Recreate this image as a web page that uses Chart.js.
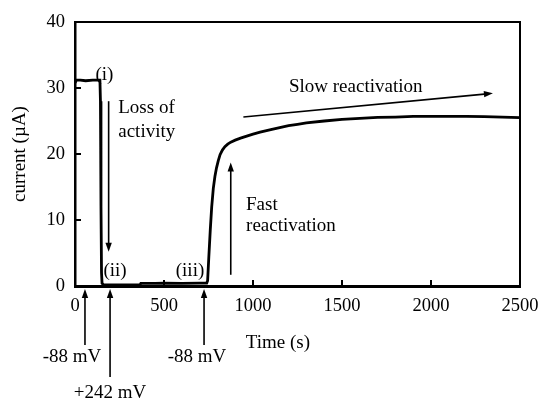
<!DOCTYPE html>
<html>
<head>
<meta charset="utf-8">
<script src="https://cdn.jsdelivr.net/npm/chart.js@4.4.1/dist/chart.umd.min.js"></script>
<style>
  html, body { margin: 0; padding: 0; background: #fff; }
  #c { display: block; }
</style>
</head>
<body>
<canvas id="c" width="544" height="402"></canvas>
<script>
// Chronoamperometry trace: time (s) against current (µA)
const times = [0, 8, 30, 60, 100, 140, 143, 146, 149, 152, 160, 200, 300, 365,
  370, 450, 500, 600, 700, 740, 745, 752, 760, 768, 777, 786, 795, 805, 815,
  828, 842, 858, 875, 900, 930, 965, 1000, 1040, 1100, 1150, 1200, 1250, 1300,
  1400, 1500, 1600, 1700, 1800, 1900, 2000, 2100, 2200, 2300, 2400, 2500];
const current = [30.8, 31.2, 31.2, 31.1, 31.2, 31.2, 28, 12, 2, 0.4, 0.2, 0.15,
  0.15, 0.15, 0.4, 0.4, 0.45, 0.4, 0.45, 0.45, 0.8, 4.5, 8.5, 12, 14.8, 16.6,
  17.9, 19.0, 19.9, 20.6, 21.1, 21.5, 21.8, 22.1, 22.4, 22.7, 23.0, 23.3, 23.7,
  24.0, 24.3, 24.5, 24.7, 25.0, 25.25, 25.4, 25.55, 25.6, 25.7, 25.7, 25.7,
  25.7, 25.65, 25.6, 25.5];

// Axis ranges and ticks
const xTicks = [0, 500, 1000, 1500, 2000, 2500];
const yTicks = [0, 10, 20, 30, 40];

// Electrode potential steps applied during the experiment
const stepTimes = [56, 197, 725];
const stepLabels = ['-88 mV', '+242 mV', '-88 mV'];

const FONT = '"Liberation Serif", "Times New Roman", serif';

// Text notes placed in data coordinates (t, current)
const notes = [
  { text: '(i)', t: 165, v: 32.0, align: 'center' },
  { text: 'Loss of', t: 243, v: 27.0, align: 'left' },
  { text: 'activity', t: 243, v: 23.4, align: 'left' },
  { text: '(ii)', t: 225, v: 2.3, align: 'center' },
  { text: '(iii)', t: 646, v: 2.3, align: 'center' },
  { text: 'Fast', t: 961, v: 12.3, align: 'left' },
  { text: 'reactivation', t: 961, v: 9.1, align: 'left' },
  { text: 'Slow reactivation', t: 1202, v: 30.2, align: 'left' }
];
// Arrows inside the plot, from (t0, v0) to head at (t1, v1)
const arrows = [
  { t0: 189, v0: 28.0, t1: 189, v1: 5.2 },
  { t0: 875, v0: 1.7, t1: 875, v1: 18.7 },
  { t0: 946, v0: 25.6, t1: 2348, v1: 29.2 }
];
// Placement of the step markers under the axis (pixel offsets)
const stepLayout = [
  { dx: -13, len: 59, textY: 71 },
  { dx: 0, len: 91, textY: 107 },
  { dx: -7, len: 59, textY: 71 }
];

function arrowHead(ctx, x0, y0, x1, y1, len, half) {
  const a = Math.atan2(y1 - y0, x1 - x0);
  ctx.beginPath();
  ctx.moveTo(x1, y1);
  ctx.lineTo(x1 - len * Math.cos(a) + half * Math.sin(a), y1 - len * Math.sin(a) - half * Math.cos(a));
  ctx.lineTo(x1 - len * Math.cos(a) - half * Math.sin(a), y1 - len * Math.sin(a) + half * Math.cos(a));
  ctx.closePath();
  ctx.fill();
}
function arrow(ctx, x0, y0, x1, y1) {
  const a = Math.atan2(y1 - y0, x1 - x0);
  ctx.beginPath();
  ctx.moveTo(x0, y0);
  ctx.lineTo(x1 - 6 * Math.cos(a), y1 - 6 * Math.sin(a));
  ctx.stroke();
  arrowHead(ctx, x0, y0, x1, y1, 9, 3.2);
}

const decorations = {
  id: 'decorations',
  afterDraw(chart) {
    const ctx = chart.ctx;
    const xs = chart.scales.x, ys = chart.scales.y;
    const area = chart.chartArea;
    ctx.save();
    ctx.strokeStyle = '#000';
    ctx.fillStyle = '#000';

    // frame on top and right
    ctx.lineWidth = 2;
    ctx.beginPath();
    ctx.moveTo(area.left, area.top);
    ctx.lineTo(area.right, area.top);
    ctx.lineTo(area.right, area.bottom);
    ctx.stroke();

    // inward tick marks
    ctx.lineWidth = 2;
    xTicks.forEach(t => {
      const x = xs.getPixelForValue(t);
      ctx.beginPath();
      ctx.moveTo(x, area.bottom);
      ctx.lineTo(x, area.bottom - 6);
      ctx.stroke();
    });
    yTicks.forEach(v => {
      const y = ys.getPixelForValue(v);
      ctx.beginPath();
      ctx.moveTo(area.left, y);
      ctx.lineTo(area.left + 6, y);
      ctx.stroke();
    });

    // notes
    ctx.font = '19px ' + FONT;
    ctx.textBaseline = 'middle';
    notes.forEach(n => {
      ctx.textAlign = n.align;
      ctx.fillText(n.text, xs.getPixelForValue(n.t), ys.getPixelForValue(n.v));
    });

    // arrows in the plot
    ctx.lineWidth = 1.6;
    arrows.forEach(a => {
      arrow(ctx, xs.getPixelForValue(a.t0), ys.getPixelForValue(a.v0),
        xs.getPixelForValue(a.t1), ys.getPixelForValue(a.v1));
    });

    // potential-step markers below the time axis
    const base = area.bottom;
    stepTimes.forEach((t, i) => {
      const x = xs.getPixelForValue(t);
      const L = stepLayout[i];
      ctx.lineWidth = 1.6;
      arrow(ctx, x, base + L.len, x, base + 3);
      ctx.textAlign = 'center';
      ctx.fillText(stepLabels[i], x + L.dx, base + L.textY);
    });

    // time axis title
    ctx.textAlign = 'center';
    ctx.fillText('Time (s)', xs.getPixelForValue(1140), base + 57);
    ctx.restore();
  }
};

new Chart(document.getElementById('c'), {
  type: 'line',
  data: {
    datasets: [{
      data: times.map((t, i) => ({ x: t, y: current[i] })),
      borderColor: '#000',
      borderWidth: 2.8,
      pointRadius: 0,
      tension: 0,
      fill: false
    }]
  },
  options: {
    responsive: false,
    animation: false,
    devicePixelRatio: 1,
    layout: { padding: { left: 0, right: 24, top: 22, bottom: 0 } },
    plugins: { legend: { display: false }, tooltip: { enabled: false } },
    scales: {
      x: {
        type: 'linear',
        min: 0, max: 2500,
        afterBuildTicks: s => { s.ticks = xTicks.map(v => ({ value: v })); },
        afterFit: s => { s.height = 116; s.paddingLeft = 0; s.paddingRight = 0; },
        grid: { display: false, drawTicks: false },
        border: { display: true, color: '#000', width: 3 },
        ticks: { color: '#000', padding: 9, maxRotation: 0,
          callback: v => String(v),
          font: { family: FONT, size: 18.5 } }
      },
      y: {
        type: 'linear',
        min: 0, max: 40,
        afterBuildTicks: s => { s.ticks = yTicks.map(v => ({ value: v })); },
        afterFit: s => { s.width = 75; s.paddingTop = 0; s.paddingBottom = 0; },
        grid: { display: false, drawTicks: false },
        border: { display: true, color: '#000', width: 2.5 },
        title: { display: true, text: 'current (µA)', color: '#000', padding: { top: 9, bottom: 0 },
          font: { family: FONT, size: 19 } },
        ticks: { color: '#000', padding: 10,
          callback: v => String(v),
          font: { family: FONT, size: 18.5 } }
      }
    }
  },
  plugins: [decorations]
});
</script>
</body>
</html>
